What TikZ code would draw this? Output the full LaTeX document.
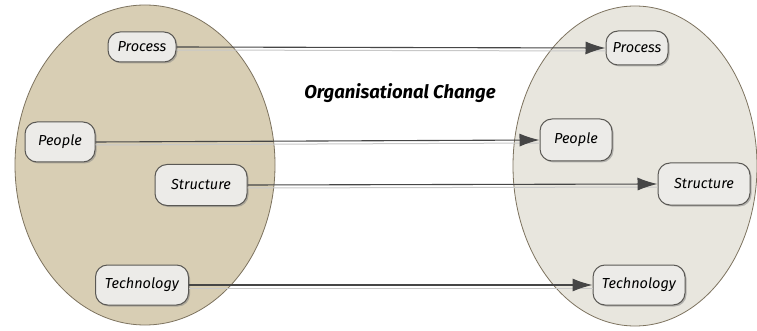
\documentclass[tikz,border=0pt]{standalone}
\usepackage{fontspec}
\setmainfont{Fira Sans}
\usetikzlibrary{arrows.meta,shadows}
\definecolor{lfill}{RGB}{216,206,180}
\definecolor{rfill}{RGB}{232,230,222}
\definecolor{eline}{RGB}{125,115,95}
\definecolor{bfill}{RGB}{236,235,232}
\definecolor{bline}{RGB}{90,88,84}
\definecolor{aline}{RGB}{70,70,70}
\definecolor{sline}{RGB}{200,200,200}
\tikzset{
  box/.style={draw=bline, line width=1pt, fill=bfill, rounded corners=12pt,
    font=\itshape\fontsize{14.5}{16}\selectfont, inner sep=0pt,
    drop shadow={shadow xshift=1.5pt, shadow yshift=-1.5pt, opacity=0.5}},
  conn/.style={draw=aline, line width=1.1pt, -{Latex[length=20pt,width=13pt]}},
  connshadow/.style={draw=sline, line width=1pt},
  ell/.style={draw=eline, line width=0.8pt}
}
\begin{document}
\begin{tikzpicture}[x=1pt,y=-1pt]
\useasboundingbox (0,0) rectangle (757,331);
\fill[white] (0,0) rectangle (757,331);
\filldraw[ell, fill=lfill] (145,165) ellipse [x radius=130, y radius=160];
\filldraw[ell, fill=rfill] (635,166) ellipse [x radius=122, y radius=160];
% left nodes
\node[box, minimum width=68pt, minimum height=30pt] (lproc) at (142,47) {Process};
\node[box, minimum width=70pt, minimum height=40pt] (lpeop) at (60,142) {People};
\node[box, minimum width=92pt, minimum height=41pt] (lstru) at (201,185) {Structure};
\node[box, minimum width=93pt, minimum height=40pt] (ltech) at (142,285) {Technology};
% right nodes
\node[box, minimum width=62pt, minimum height=34pt] (rproc) at (637,48) {Process};
\node[box, minimum width=72pt, minimum height=42pt] (rpeop) at (576,140) {People};
\node[box, minimum width=92pt, minimum height=42pt] (rstru) at (704,184) {Structure};
\node[box, minimum width=92pt, minimum height=40pt] (rtech) at (639,285) {Technology};
% title
\node[font=\bfseries\itshape\fontsize{18.5}{21}\selectfont] (title) at (400,93) {Organisational Change};
% connector shadows
\draw[connshadow] ([yshift=-3pt]lproc.east) -- ([yshift=-3pt]rproc.west);
\draw[connshadow] ([yshift=-3pt]lpeop.east) -- ([yshift=-3pt]rpeop.west);
\draw[connshadow] ([yshift=-3pt]lstru.east) -- ([yshift=-3pt]rstru.west);
\draw[connshadow] ([yshift=-3pt]ltech.east) -- ([yshift=-3pt]rtech.west);
% connectors
\draw[conn] (lproc.east) -- (rproc.west);
\draw[conn] (lpeop.east) -- (rpeop.west);
\draw[conn] (lstru.east) -- (rstru.west);
\draw[conn] (ltech.east) -- (rtech.west);
\end{tikzpicture}
\end{document}
